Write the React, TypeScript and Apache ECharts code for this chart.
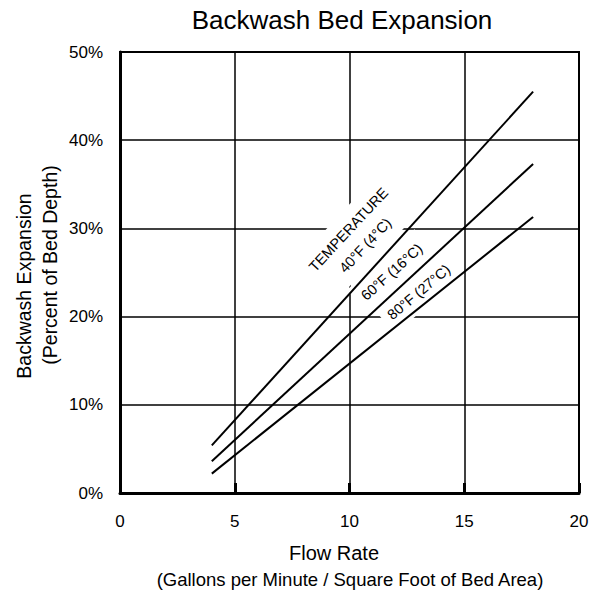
import React, { useEffect, useRef } from "react";
import * as echarts from "echarts";

// ---- data ----
const flowRate = [4, 18]; // gpm / sq ft
const expansion40F = [5.4, 45.5]; // % of bed depth
const expansion60F = [3.6, 37.3];
const expansion80F = [2.2, 31.3];
const seriesNames = ["40°F (4°C)", "60°F (16°C)", "80°F (27°C)"];
const xTickStep = 5;
const yTickStep = 10;

const FONT = "'Liberation Sans', Arial, Helvetica, sans-serif";

export default function App() {
  const ref = useRef<HTMLDivElement>(null);

  useEffect(() => {
    if (!ref.current) return;
    const chart = echarts.init(ref.current, null, { renderer: "svg" });

    const mk = (name: string, ys: number[]) => ({
      type: "line",
      name,
      data: flowRate.map((x, i) => [x, ys[i]]),
      symbol: "none",
      showSymbol: false,
      silent: true,
      z: 5,
      lineStyle: { color: "#000", width: 2 },
    });

    chart.setOption({
      animation: false,
      grid: {
        left: 120,
        right: 21,
        top: 52,
        bottom: 97,
        show: true,
        borderColor: "#000",
        borderWidth: 2,
        backgroundColor: "transparent",
      },
      xAxis: {
        type: "value",
        min: 0,
        max: 20,
        interval: xTickStep,
        axisLine: { show: true, lineStyle: { color: "#000", width: 3 } },
        axisTick: { show: true, inside: true, length: 10, lineStyle: { color: "#000", width: 3 } },
        axisLabel: { color: "#000", fontSize: 17, fontFamily: FONT, margin: 20 },
        splitLine: { show: true, lineStyle: { color: "#000", width: 1.5 } },
      },
      yAxis: {
        type: "value",
        min: 0,
        max: 50,
        interval: yTickStep,
        axisLine: { show: true, lineStyle: { color: "#000", width: 3 } },
        axisTick: { show: false },
        axisLabel: {
          color: "#000",
          fontSize: 17,
          fontFamily: FONT,
          margin: 17,
          padding: [8, 0, 0, 0],
          formatter: "{value}%",
        },
        splitLine: { show: true, lineStyle: { color: "#000", width: 1.5 } },
      },
      series: [
        mk(seriesNames[0], expansion40F),
        mk(seriesNames[1], expansion60F),
        mk(seriesNames[2], expansion80F),
      ],
    });

    // label anchors in data coordinates, with rotation angles (deg)
    const labels = [
      { at: [10.32, 28.97], angle: 47, text: "TEMPERATURE\n" + seriesNames[0] },
      { at: [11.84, 25.06], angle: 42, text: seriesNames[1] },
      { at: [13.02, 22.79], angle: 40, text: seriesNames[2] },
    ];
    const deg = Math.PI / 180;

    const graphics: any[] = labels.map((l) => {
      const p = chart.convertToPixel({ gridIndex: 0 }, l.at) as number[];
      return {
        type: "text",
        x: p[0],
        y: p[1],
        rotation: l.angle * deg,
        z: 1,
        silent: true,
        style: {
          text: l.text,
          fill: "#000",
          font: `14.5px ${FONT}`,
          align: "center",
          verticalAlign: "middle",
          lineHeight: 23,
          backgroundColor: "#fff",
          padding: [5, 7],
        },
      };
    });

    graphics.push(
      {
        type: "text",
        x: 342,
        y: 20,
        z: 10,
        style: {
          text: "Backwash Bed Expansion",
          fill: "#000",
          font: `26px ${FONT}`,
          align: "center",
          verticalAlign: "middle",
        },
      },
      {
        type: "text",
        x: 334,
        y: 553,
        z: 10,
        style: {
          text: "Flow Rate",
          fill: "#000",
          font: `20px ${FONT}`,
          align: "center",
          verticalAlign: "middle",
        },
      },
      {
        type: "text",
        x: 350,
        y: 579,
        z: 10,
        style: {
          text: "(Gallons per Minute / Square Foot of Bed Area)",
          fill: "#000",
          font: `18.5px ${FONT}`,
          align: "center",
          verticalAlign: "middle",
        },
      },
      {
        type: "text",
        x: 24,
        y: 286,
        rotation: 90 * deg,
        z: 10,
        style: {
          text: "Backwash Expansion",
          fill: "#000",
          font: `19.5px ${FONT}`,
          align: "center",
          verticalAlign: "middle",
        },
      },
      {
        type: "text",
        x: 50,
        y: 265,
        rotation: 90 * deg,
        z: 10,
        style: {
          text: "(Percent of Bed Depth)",
          fill: "#000",
          font: `19.5px ${FONT}`,
          align: "center",
          verticalAlign: "middle",
        },
      }
    );

    chart.setOption({ graphic: graphics });

    return () => chart.dispose();
  }, []);

  return (
    <div
      ref={ref}
      style={{ position: "fixed", left: 0, top: 0, width: 600, height: 590, background: "#fff" }}
    />
  );
}
